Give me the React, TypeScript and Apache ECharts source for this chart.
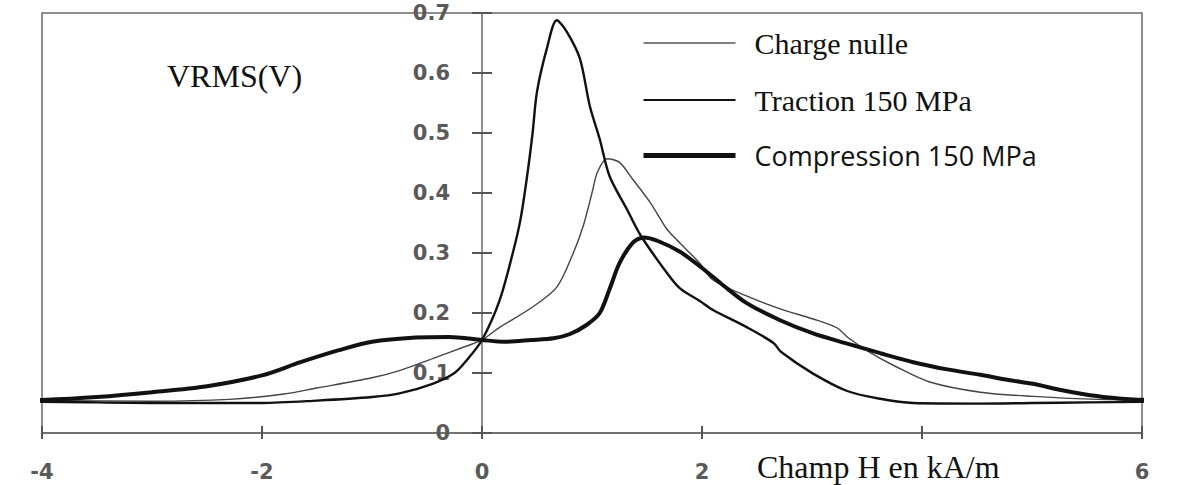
import React, { useEffect, useRef } from 'react';
import * as echarts from 'echarts';

// Champ H (kA/m) / VRMS (V) pairs
const chargeNulle: [number, number][] = [
  [-4.3, 0.054], [-4, 0.054], [-3, 0.053], [-2.3, 0.056], [-1.8, 0.065], [-1.5, 0.075],
  [-1, 0.092], [-0.75, 0.104], [-0.45, 0.124], [-0.14, 0.145], [0, 0.155], [0.16, 0.176],
  [0.46, 0.21], [0.68, 0.243], [0.83, 0.3], [0.92, 0.345], [1.0, 0.4], [1.05, 0.435],
  [1.14, 0.457], [1.25, 0.451], [1.37, 0.423], [1.53, 0.384], [1.68, 0.34], [1.77, 0.322],
  [1.98, 0.283], [2.1, 0.255], [2.41, 0.228], [2.71, 0.207], [3.01, 0.19], [3.23, 0.175],
  [3.32, 0.16], [3.53, 0.134], [3.77, 0.11], [4.07, 0.085], [4.53, 0.068], [5.01, 0.061],
  [5.6, 0.056], [6.35, 0.055],
];

const traction: [number, number][] = [
  [-4.3, 0.052], [-4, 0.052], [-3, 0.05], [-2, 0.05], [-1.5, 0.054], [-1, 0.06],
  [-0.75, 0.066], [-0.45, 0.082], [-0.25, 0.1], [-0.14, 0.121], [0, 0.155], [0.16, 0.221],
  [0.28, 0.3], [0.35, 0.356], [0.41, 0.428], [0.46, 0.5], [0.5, 0.569], [0.59, 0.641],
  [0.68, 0.688], [0.77, 0.669], [0.89, 0.624], [0.98, 0.545], [1.07, 0.49], [1.16, 0.428],
  [1.32, 0.372], [1.44, 0.33], [1.68, 0.267], [1.8, 0.241], [1.98, 0.22], [2.1, 0.205],
  [2.41, 0.176], [2.65, 0.15], [2.72, 0.135], [3.01, 0.099], [3.32, 0.07], [3.62, 0.057],
  [3.92, 0.05], [4.5, 0.049], [5, 0.05], [5.5, 0.051], [6, 0.052], [6.35, 0.053],
];

const compression: [number, number][] = [
  [-4.3, 0.054], [-4, 0.055], [-3.5, 0.06], [-3, 0.068], [-2.5, 0.078], [-2, 0.096],
  [-1.65, 0.118], [-1.3, 0.138], [-1, 0.152], [-0.6, 0.159], [-0.3, 0.16], [0, 0.155],
  [0.2, 0.152], [0.45, 0.155], [0.65, 0.158], [0.8, 0.165], [0.95, 0.18], [1.07, 0.2],
  [1.16, 0.24], [1.25, 0.283], [1.37, 0.317], [1.47, 0.326], [1.6, 0.32], [1.8, 0.302],
  [2.0, 0.275], [2.2, 0.245], [2.41, 0.216], [2.71, 0.188], [3.01, 0.166], [3.32, 0.149],
  [3.62, 0.133], [3.92, 0.118], [4.23, 0.106], [4.53, 0.097], [4.8, 0.088], [5.01, 0.082],
  [5.25, 0.072], [5.46, 0.065], [5.7, 0.059], [5.92, 0.056], [6.35, 0.055],
];

const seriesNames = ['Charge nulle', 'Traction 150 MPa', 'Compression 150 MPa'];
const xMin = -4;
const xMax = 6;
const xInterval = 2;
const yMin = 0;
const yMax = 0.7;
const yInterval = 0.1;
const hiddenXTick = 4;
const yTitle = 'VRMS(V)';
const xTitle = 'Champ H en kA/m';

const WIDTH = 1185;
const HEIGHT = 485;
const GRID_LEFT = 42;
const GRID_RIGHT = 43;

export default function App() {
  const ref = useRef<HTMLDivElement>(null);

  useEffect(() => {
    document.body.style.margin = '0';
    const chart = echarts.init(ref.current as HTMLDivElement, null, { renderer: 'svg' });
    const tickLabel = {
      fontFamily: 'DejaVu Sans',
      fontWeight: 'bold' as const,
      fontSize: 21,
      color: '#5a5a5a',
    };
    const axisLineStyle = { color: '#6a6a6a', width: 1.5 };
    const tickStyle = { color: '#555', width: 2 };
    // the vertical axis sits at H = 0, inside the plot
    const plotWidth = WIDTH - GRID_LEFT - GRID_RIGHT;
    const yAxisOffset = -plotWidth * (0 - xMin) / (xMax - xMin);
    const serifTitle = { fontFamily: 'Liberation Serif', fontWeight: 'normal' as const, color: '#111' };

    chart.setOption({
      animation: false,
      backgroundColor: '#fff',
      title: [
        {
          text: yTitle,
          left: 162,
          top: 55,
          textStyle: { ...serifTitle, fontSize: 32 },
        },
        {
          text: xTitle,
          left: 757,
          top: 450,
          padding: 0,
          textStyle: { ...serifTitle, fontSize: 32, lineHeight: 33 },
        },
      ],
      legend: {
        orient: 'vertical',
        left: 636,
        top: 23,
        itemWidth: 92,
        itemHeight: 14,
        itemGap: 27,
        selectedMode: false,
        itemStyle: { opacity: 0 },
        data: [
          {
            name: seriesNames[0],
            lineStyle: { width: 1.5, color: '#555' },
            textStyle: { fontFamily: 'Liberation Serif', fontSize: 30, color: '#111' },
          },
          {
            name: seriesNames[1],
            lineStyle: { width: 2, color: '#111' },
            textStyle: { fontFamily: 'Liberation Serif', fontSize: 30, color: '#111' },
          },
          {
            name: seriesNames[2],
            lineStyle: { width: 5, color: '#111' },
            textStyle: { fontFamily: 'Open Sans', fontSize: 27, color: '#111' },
          },
        ],
        textStyle: { padding: [0, 0, 0, 14] },
      },
      grid: {
        left: GRID_LEFT,
        right: GRID_RIGHT,
        top: 13,
        bottom: 52,
        show: true,
        borderColor: '#6a6a6a',
        borderWidth: 1.5,
        containLabel: false,
        outerBoundsMode: 'none',
      },
      xAxis: [
        {
          type: 'value',
          min: xMin,
          max: xMax,
          interval: xInterval,
          axisLine: { show: true, onZero: false, lineStyle: axisLineStyle },
          axisTick: { show: true, length: 6, lineStyle: tickStyle },
          axisLabel: {
            ...tickLabel,
            margin: 28,
            formatter: (v: number) => (v === hiddenXTick ? '' : String(v)),
          },
          splitLine: { show: false },
        },
        {
          type: 'value',
          min: xMin,
          max: xMax,
          interval: xInterval,
          position: 'bottom',
          axisLine: { show: false, onZero: false },
          axisTick: { show: true, inside: true, length: 7, lineStyle: tickStyle },
          axisLabel: { show: false },
          splitLine: { show: false },
        },
      ],
      yAxis: [
        {
          type: 'value',
          min: yMin,
          max: yMax,
          interval: yInterval,
          position: 'left',
          offset: yAxisOffset,
          axisLine: { show: true, onZero: false, lineStyle: axisLineStyle },
          axisTick: { show: true, length: 10, lineStyle: tickStyle },
          axisLabel: {
            ...tickLabel,
            margin: 32,
            formatter: (v: number) => (v === 0 ? '0' : v.toFixed(1)),
          },
          splitLine: { show: false },
        },
        {
          type: 'value',
          min: yMin,
          max: yMax,
          interval: yInterval,
          position: 'left',
          offset: yAxisOffset,
          axisLine: { show: false, onZero: false },
          axisTick: { show: true, inside: true, length: 10, lineStyle: tickStyle },
          axisLabel: { show: false },
          splitLine: { show: false },
        },
      ],
      series: [
        {
          name: seriesNames[0],
          type: 'line',
          data: chargeNulle,
          symbol: 'none',
          smooth: 0.3,
          clip: false,
          lineStyle: { color: '#444', width: 1.4 },
          itemStyle: { color: '#444' },
          z: 3,
        },
        {
          name: seriesNames[1],
          type: 'line',
          data: traction,
          symbol: 'none',
          smooth: 0.3,
          clip: false,
          lineStyle: { color: '#111', width: 2.4 },
          itemStyle: { color: '#111' },
          z: 4,
        },
        {
          name: seriesNames[2],
          type: 'line',
          data: compression,
          symbol: 'none',
          smooth: 0.3,
          clip: false,
          lineStyle: { color: '#111', width: 4 },
          itemStyle: { color: '#111' },
          z: 5,
        },
      ],
    });
    return () => chart.dispose();
  }, []);

  return <div ref={ref} style={{ width: WIDTH, height: HEIGHT }} />;
}
